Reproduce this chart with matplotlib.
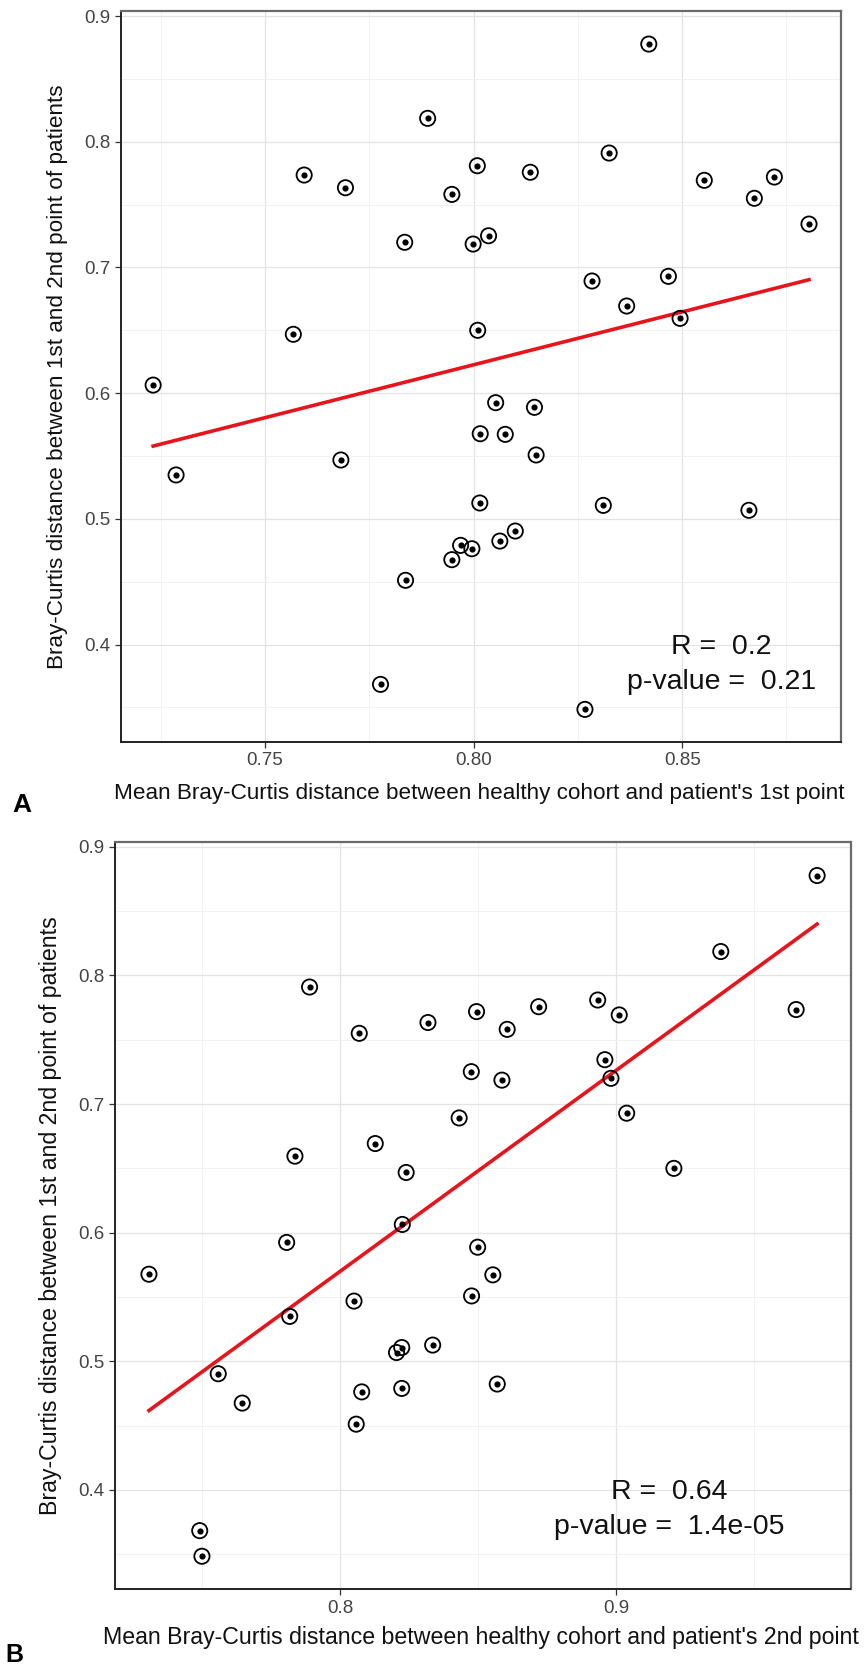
import numpy as np
import matplotlib
matplotlib.use("Agg")
import matplotlib.pyplot as plt
from matplotlib.ticker import MultipleLocator

plt.rcParams['font.family'] = ['Liberation Sans', 'DejaVu Sans']

# Bray-Curtis distance between 1st and 2nd point of each patient
dist_12 = [0.6064, 0.5349, 0.6468, 0.7735, 0.5468, 0.7634, 0.3683, 0.7200,
           0.4511, 0.8186, 0.7581, 0.4675, 0.4789, 0.4762, 0.7186, 0.7809,
           0.6500, 0.5126, 0.5677, 0.7252, 0.5924, 0.4823, 0.5672, 0.4903,
           0.7757, 0.5887, 0.5508, 0.3484, 0.6892, 0.5107, 0.7910, 0.6693,
           0.8777, 0.6929, 0.6595, 0.7693, 0.5068, 0.7550, 0.7719, 0.7345]

# mean distance to healthy cohort, 1st point
healthy_1st = [0.7232, 0.7287, 0.7568, 0.7594, 0.7682, 0.7693, 0.7777, 0.7835,
               0.7837, 0.7890, 0.7948, 0.7948, 0.7969, 0.7996, 0.7999, 0.8009,
               0.8010, 0.8015, 0.8016, 0.8036, 0.8053, 0.8063, 0.8076, 0.8100,
               0.8136, 0.8146, 0.8150, 0.8267, 0.8284, 0.8311, 0.8325, 0.8367,
               0.8420, 0.8467, 0.8495, 0.8553, 0.8660, 0.8673, 0.8721, 0.8804]

# mean distance to healthy cohort, 2nd point
healthy_2nd = [0.8226, 0.7818, 0.8240, 0.9653, 0.8051, 0.8319, 0.7492, 0.8982,
               0.8059, 0.9380, 0.8606, 0.7646, 0.8224, 0.8079, 0.8587, 0.8934,
               0.9210, 0.8336, 0.7308, 0.8476, 0.7807, 0.8570, 0.8554, 0.7559,
               0.8720, 0.8499, 0.8477, 0.7500, 0.8432, 0.8224, 0.7890, 0.8128,
               0.9729, 0.9039, 0.7837, 0.9012, 0.8205, 0.8070, 0.8495, 0.8960]

stats_a = "R =  0.2\np-value =  0.21"
stats_b = "R =  0.64\np-value =  1.4e-05"

ylabel = "Bray-Curtis distance between 1st and 2nd point of patients"
xlabel_a = "Mean Bray-Curtis distance between healthy cohort and patient's 1st point"
xlabel_b = "Mean Bray-Curtis distance between healthy cohort and patient's 2nd point"


def panel(ax, x, y, xlim, xmajor, xfmt, stats, stats_x, xlabel, fsize):
    x = np.asarray(x)
    y = np.asarray(y)
    ax.set_xlim(*xlim)
    ax.set_ylim(0.3227, 0.904)
    ax.xaxis.set_major_locator(MultipleLocator(xmajor))
    ax.xaxis.set_minor_locator(MultipleLocator(xmajor / 2))
    ax.yaxis.set_major_locator(MultipleLocator(0.1))
    ax.yaxis.set_minor_locator(MultipleLocator(0.05))
    ax.xaxis.set_major_formatter(plt.FuncFormatter(lambda v, p: xfmt.format(v)))
    ax.yaxis.set_major_formatter(plt.FuncFormatter(lambda v, p: "{0:.1f}".format(v)))
    ax.grid(which='major', color='#e3e3e3', linewidth=0.9)
    ax.grid(which='minor', color='#f1f1f1', linewidth=0.7)
    ax.set_axisbelow(True)
    ax.tick_params(which='minor', length=0)
    ax.tick_params(which='major', length=4, width=0.9, color='#333333',
                   labelsize=13.5, labelcolor='#444444', pad=3.5)

    for side in ['top', 'right']:
        ax.spines[side].set_color('#6a6a6a')
        ax.spines[side].set_linewidth(1.6)
    for side in ['left', 'bottom']:
        ax.spines[side].set_color('#222222')
        ax.spines[side].set_linewidth(1.4)

    # regression line over data range
    slope, icpt = np.polyfit(x, y, 1)
    xs = np.array([x.min(), x.max()])
    ax.plot(xs, icpt + slope * xs, color='#e8141b', linewidth=2.6, zorder=3)

    ax.scatter(x, y, s=120, facecolor='none', edgecolor='black', linewidth=1.3, zorder=4)
    ax.scatter(x, y, s=20, color='black', linewidth=0, zorder=5)

    ax.text(stats_x, 0.3845, stats, ha='center', va='center', fontsize=20.5,
            linespacing=1.45, color='#111111')

    ax.set_xlabel(xlabel, fontsize=fsize, color='#111111')
    ax.set_ylabel(ylabel, fontsize=fsize, color='#111111')


fig = plt.figure(figsize=(8.64, 16.66), dpi=100)

ax_a = fig.add_axes([121 / 864, 1 - 741.7 / 1666, 719.7 / 864, 730.7 / 1666])
panel(ax_a, healthy_1st, dist_12, (0.7155, 0.888), 0.05, "{0:.2f}",
      stats_a, 0.8594, xlabel_a, 16.2)
ax_a.xaxis.set_label_coords(0.498, -0.056)
ax_a.yaxis.set_label_coords(-0.074, 0.5)

ax_b = fig.add_axes([115 / 864, 1 - 1589.3 / 1666, 735.5 / 864, 747.6 / 1666])
panel(ax_b, healthy_2nd, dist_12, (0.7185, 0.985), 0.1, "{0:.1f}",
      stats_b, 0.9194, xlabel_b, 16.7)
ax_b.xaxis.set_label_coords(0.498, -0.049)
ax_b.yaxis.set_label_coords(-0.072, 0.5)

fig.text(22 / 864, 1 - 805 / 1666, "A", fontsize=19, fontweight='bold',
         ha='center', va='center')
fig.text(14 / 864, 1 - 1655 / 1666, "B", fontsize=18, fontweight='bold',
         ha='center', va='center')

fig.savefig("out.png", dpi=100, facecolor='white')
